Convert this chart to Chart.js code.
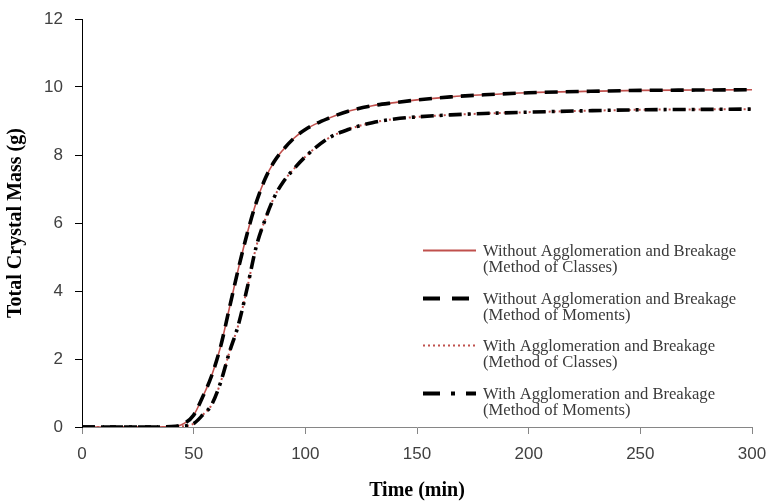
<!DOCTYPE html>
<html>
<head>
<meta charset="utf-8">
<script src="https://cdn.jsdelivr.net/npm/chart.js@4/dist/chart.umd.min.js"></script>
<style>
  html, body { margin: 0; padding: 0; background: #fff; }
  #wrap { width: 770px; height: 503px; position: relative; }
</style>
</head>
<body>
<div id="wrap"><canvas id="chart"></canvas></div>
<script>
// Time axis (min)
const timeMin = [0, 10, 20, 30, 40, 45, 50, 54, 58, 62, 66, 70, 74, 78, 82, 86, 90, 95, 100,
  110, 120, 130, 140, 150, 165, 180, 200, 225, 250, 275, 300];

// Total crystal mass (g) without agglomeration and breakage
const massWithout = [0, 0, 0, 0, 0.01, 0.08, 0.35, 0.88, 1.5, 2.35, 3.5, 4.65, 5.7, 6.6, 7.3, 7.8, 8.15, 8.5, 8.75,
  9.07, 9.3, 9.45, 9.54, 9.62, 9.71, 9.77, 9.83, 9.87, 9.9, 9.91, 9.92];

// Total crystal mass (g) with agglomeration and breakage
const massWith = [0, 0, 0, 0, 0, 0.02, 0.1, 0.35, 0.65, 1.3, 2.2, 3.0, 4.1, 5.3, 6.1, 6.75, 7.2, 7.6, 7.95,
  8.48, 8.77, 8.95, 9.06, 9.12, 9.18, 9.22, 9.26, 9.3, 9.33, 9.34, 9.35];

const xTicks = [0, 50, 100, 150, 200, 250, 300];
const yTicks = [0, 2, 4, 6, 8, 10, 12];

const seriesLabels = [
  ['Without Agglomeration and Breakage', '(Method of Classes)'],
  ['Without Agglomeration and Breakage', '(Method of Moments)'],
  ['With Agglomeration and Breakage', '(Method of Classes)'],
  ['With Agglomeration and Breakage', '(Method of Moments)']
];

const RED = '#c0504d';

function points(values) {
  return timeMin.map((t, i) => ({ x: t, y: values[i] }));
}

const styles = [
  { color: RED, width: 1.6, dash: [], order: 4, legendWidth: 2, legendDash: [] },
  { color: '#000', width: 3.6, dash: [13, 8], order: 2, legendWidth: 4, legendDash: [17, 12] },
  { color: RED, width: 2, dash: [2, 3], order: 3, legendWidth: 2, legendDash: [2, 3] },
  { color: '#000', width: 3.6, dash: [13, 6, 3, 6], order: 1, legendWidth: 4, legendDash: [17, 11, 4, 11] }
];

const dataSets = [massWithout, massWithout, massWith, massWith].map((vals, i) => ({
  label: seriesLabels[i].join(' '),
  data: points(vals),
  borderColor: styles[i].color,
  borderWidth: styles[i].width,
  borderDash: styles[i].dash,
  order: styles[i].order,
  pointRadius: 0,
  fill: false,
  cubicInterpolationMode: 'monotone'
}));

// Two-line legend drawn inside the plot area
const legendPlugin = {
  id: 'twoLineLegend',
  afterDraw(chart) {
    const ctx = chart.ctx;
    const rows = [250, 298, 345, 393];
    ctx.save();
    ctx.font = '16.6px "Liberation Serif", "Times New Roman", serif';
    ctx.fillStyle = '#3a3a3a';
    ctx.textBaseline = 'middle';
    rows.forEach((y, i) => {
      const s = styles[i];
      ctx.beginPath();
      ctx.strokeStyle = s.color;
      ctx.lineWidth = s.legendWidth;
      ctx.setLineDash(s.legendDash);
      ctx.moveTo(423, y + 0.5);
      ctx.lineTo(476, y + 0.5);
      ctx.stroke();
      ctx.fillText(seriesLabels[i][0], 483, y + 2);
      ctx.fillText(seriesLabels[i][1], 483, y + 18);
    });
    ctx.restore();
  }
};

new Chart(document.getElementById('chart'), {
  type: 'line',
  data: { datasets: dataSets },
  options: {
    responsive: true,
    maintainAspectRatio: false,
    animation: false,
    layout: { padding: { top: 19, right: 18, left: 0, bottom: 0 } },
    plugins: {
      legend: { display: false },
      tooltip: { enabled: false }
    },
    scales: {
      x: {
        type: 'linear',
        min: 0,
        max: 300,
        afterBuildTicks: axis => { axis.ticks = xTicks.map(v => ({ value: v })); },
        afterFit: axis => {
          axis.height = 76;
          axis.paddingLeft = 0;
          axis.paddingRight = 0;
        },
        border: { color: '#868686', width: 1 },
        grid: { drawOnChartArea: false, drawTicks: true, tickLength: 7, color: '#868686' },
        ticks: {
          padding: 10,
          color: '#404040',
          font: { family: '"Liberation Sans", Arial, sans-serif', size: 17 }
        },
        title: {
          display: true,
          text: 'Time (min)',
          color: '#000',
          padding: { top: 0, bottom: 0 },
          font: { family: '"Liberation Serif", "Times New Roman", serif', size: 20, weight: 'bold' }
        }
      },
      y: {
        min: 0,
        max: 12,
        afterBuildTicks: axis => { axis.ticks = yTicks.map(v => ({ value: v })); },
        afterFit: axis => {
          axis.width = 82;
          axis.paddingTop = 0;
          axis.paddingBottom = 0;
        },
        border: { color: '#000', width: 1 },
        grid: { drawOnChartArea: false, drawTicks: true, tickLength: 7, color: '#000' },
        ticks: {
          padding: 12,
          color: '#404040',
          font: { family: '"Liberation Sans", Arial, sans-serif', size: 17 }
        },
        title: {
          display: true,
          text: 'Total Crystal Mass (g)',
          color: '#000',
          padding: { top: 4, bottom: 0 },
          font: { family: '"Liberation Serif", "Times New Roman", serif', size: 20, weight: 'bold' }
        }
      }
    }
  },
  plugins: [legendPlugin]
});
</script>
</body>
</html>
